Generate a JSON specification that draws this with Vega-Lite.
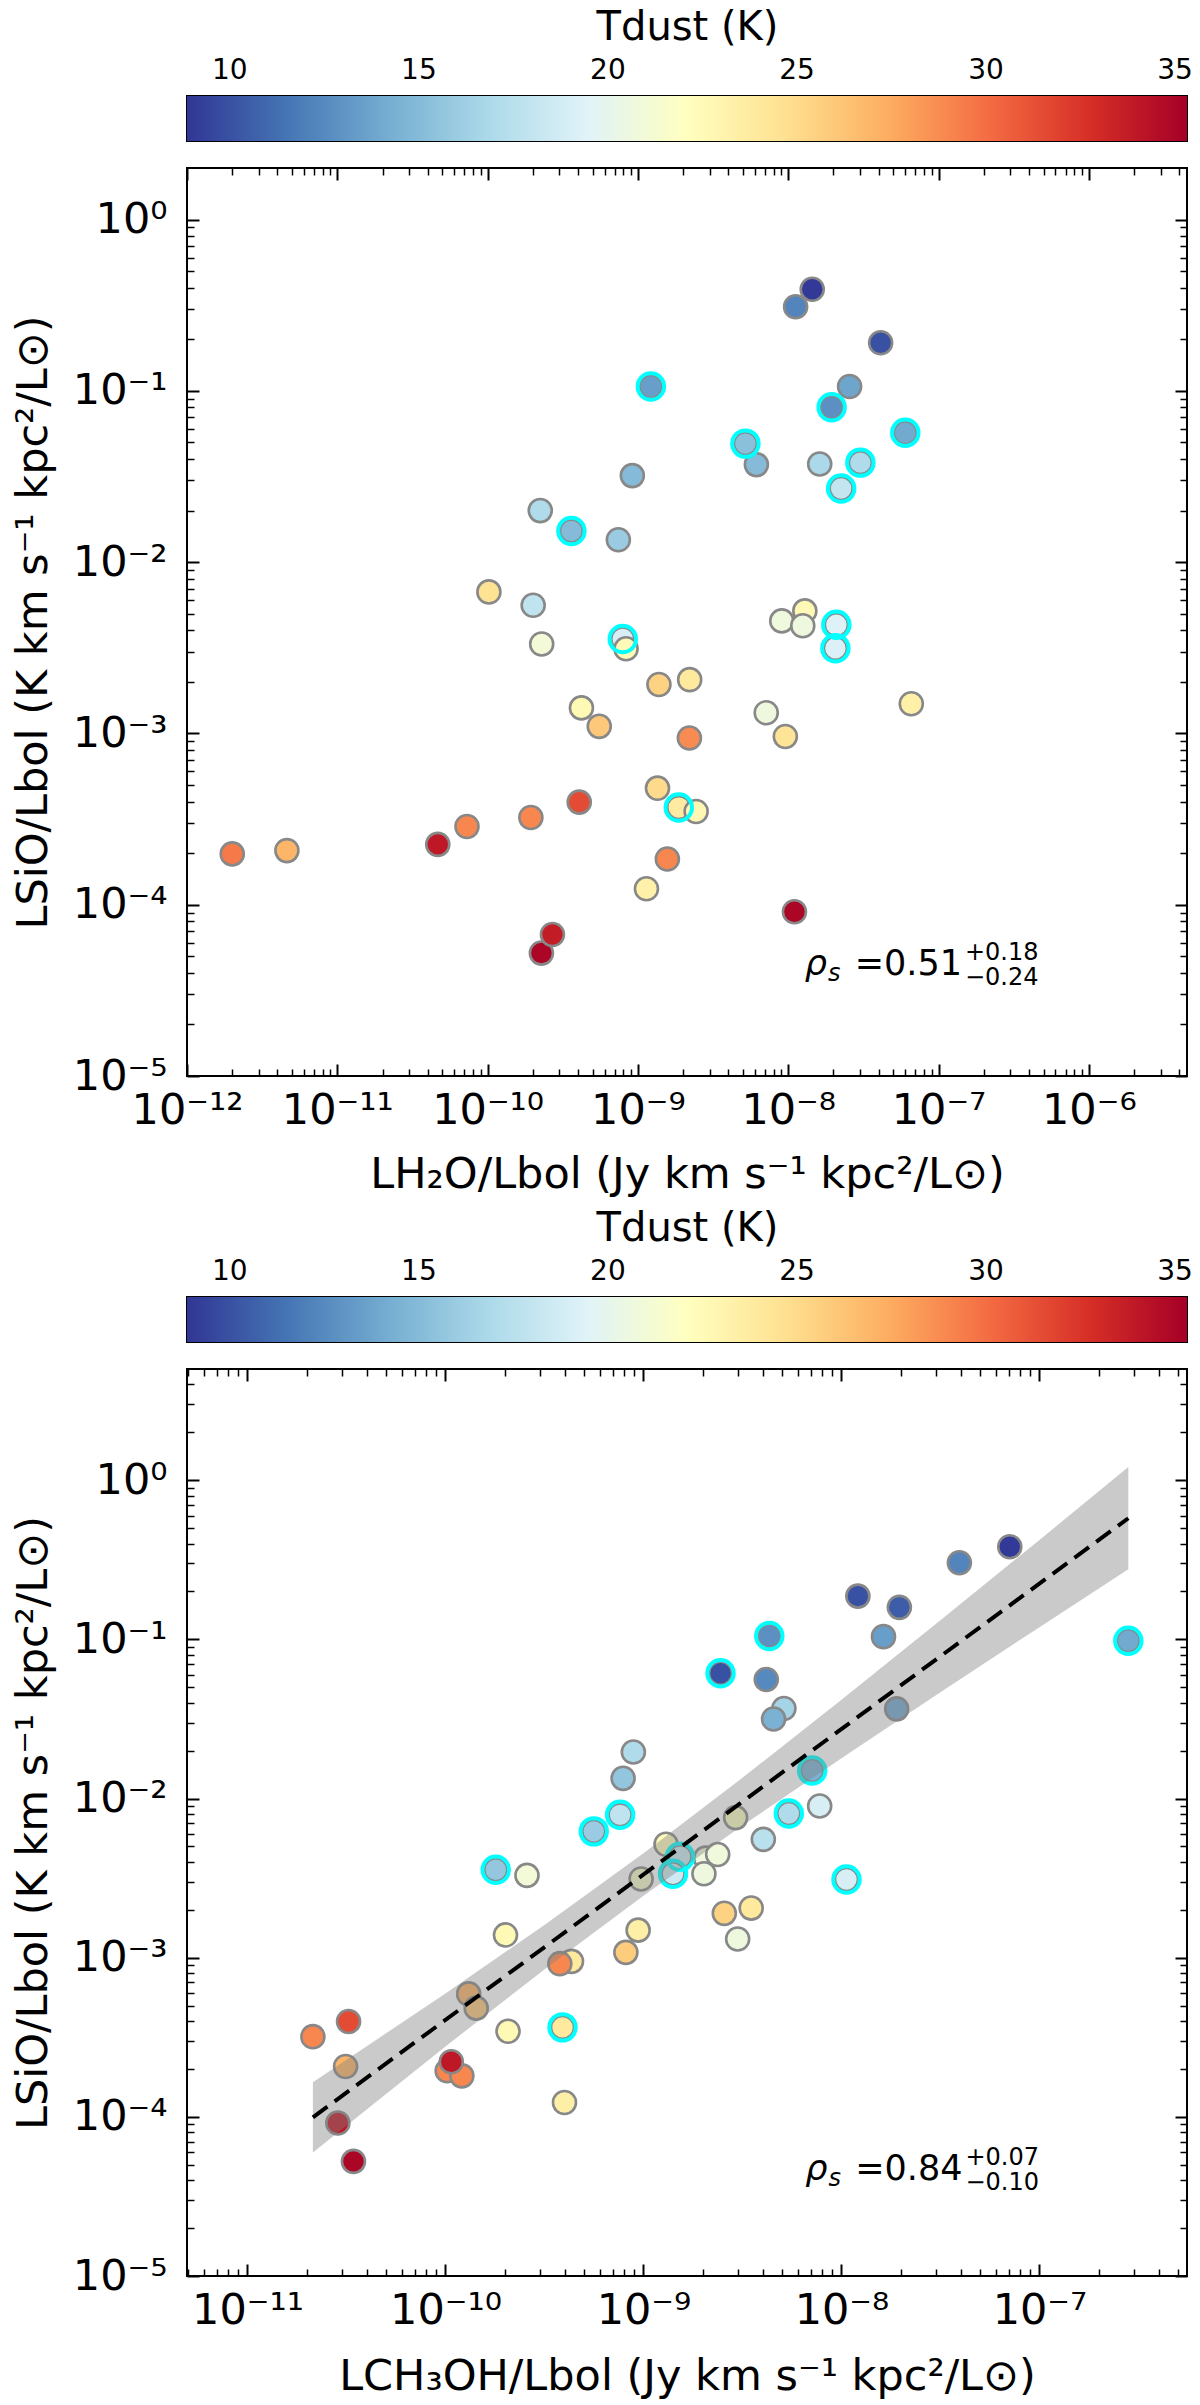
{
  "$schema": "https://vega.github.io/schema/vega-lite/v6.json",
  "description": "SiO vs H2O and CH3OH line luminosity ratios, coloured by dust temperature",
  "autosize": "none",
  "padding": {"left": 187, "top": 96, "right": 1013, "bottom": 2309},
  "background": "white",
  "bounds": "flush",
  "spacing": 27,
  "datasets": {
    "cbar": [{"t0": 8.88, "t1": 35.33}],
    "h2o": [
      {"x": 1.22e-9, "y": 0.106, "t": 13.5, "c": true},
      {"x": 9.18e-10, "y": 0.032, "t": 15, "c": false},
      {"x": 2.24e-10, "y": 0.020, "t": 17, "c": false},
      {"x": 3.61e-10, "y": 0.0152, "t": 15, "c": true},
      {"x": 7.41e-10, "y": 0.0135, "t": 16, "c": false},
      {"x": 1.02e-10, "y": 0.0067, "t": 24.5, "c": false},
      {"x": 2.01e-10, "y": 0.0056, "t": 17.8, "c": false},
      {"x": 2.29e-10, "y": 0.00333, "t": 21, "c": false},
      {"x": 7.93e-10, "y": 0.00356, "t": 19, "c": true},
      {"x": 8.34e-10, "y": 0.00312, "t": 22.5, "c": false},
      {"x": 1.38e-9, "y": 0.00193, "t": 25.5, "c": false},
      {"x": 2.21e-9, "y": 0.00206, "t": 24, "c": false},
      {"x": 4.21e-10, "y": 0.00141, "t": 22.6, "c": false},
      {"x": 5.53e-10, "y": 0.0011, "t": 26, "c": false},
      {"x": 2.20e-9, "y": 0.00094, "t": 28.8, "c": false},
      {"x": 1.35e-9, "y": 0.000479, "t": 25, "c": false},
      {"x": 1.87e-9, "y": 0.000369, "t": 23.8, "c": true},
      {"x": 2.44e-9, "y": 0.00035, "t": 22.8, "c": false},
      {"x": 4.07e-10, "y": 0.000397, "t": 31.5, "c": false},
      {"x": 1.94e-10, "y": 0.000323, "t": 29, "c": false},
      {"x": 7.29e-11, "y": 0.000286, "t": 29, "c": false},
      {"x": 4.66e-11, "y": 0.000225, "t": 34, "c": false},
      {"x": 2.0e-12, "y": 0.000198, "t": 29.5, "c": false},
      {"x": 4.62e-12, "y": 0.000207, "t": 27, "c": false},
      {"x": 1.57e-9, "y": 0.000185, "t": 29, "c": false},
      {"x": 1.14e-9, "y": 0.000124, "t": 23.3, "c": false},
      {"x": 2.28e-10, "y": 5.22e-5, "t": 35, "c": false},
      {"x": 2.70e-10, "y": 6.7e-5, "t": 33.8, "c": false},
      {"x": 1.12e-8, "y": 0.310, "t": 12.3, "c": false},
      {"x": 1.445e-8, "y": 0.392, "t": 9, "c": false},
      {"x": 4.12e-8, "y": 0.191, "t": 10, "c": false},
      {"x": 2.56e-8, "y": 0.106, "t": 13.8, "c": false},
      {"x": 1.945e-8, "y": 0.0802, "t": 12.8, "c": true},
      {"x": 6.01e-8, "y": 0.057, "t": 14, "c": true},
      {"x": 6.14e-9, "y": 0.0371, "t": 15, "c": false},
      {"x": 5.19e-9, "y": 0.0492, "t": 15.3, "c": true},
      {"x": 1.62e-8, "y": 0.0374, "t": 16.8, "c": false},
      {"x": 3.02e-8, "y": 0.0381, "t": 17, "c": true},
      {"x": 2.25e-8, "y": 0.0269, "t": 18, "c": true},
      {"x": 1.29e-8, "y": 0.00519, "t": 22.6, "c": false},
      {"x": 9.06e-9, "y": 0.00454, "t": 20.7, "c": false},
      {"x": 1.25e-8, "y": 0.00425, "t": 20.6, "c": false},
      {"x": 2.09e-8, "y": 0.00431, "t": 19.3, "c": true},
      {"x": 2.06e-8, "y": 0.00314, "t": 19.2, "c": true},
      {"x": 6.59e-8, "y": 0.00149, "t": 23.4, "c": false},
      {"x": 7.14e-9, "y": 0.00132, "t": 20.6, "c": false},
      {"x": 9.57e-9, "y": 0.00096, "t": 24.4, "c": false},
      {"x": 1.10e-8, "y": 9.1e-5, "t": 35, "c": false}
    ],
    "ch3oh": [
      {"x": 2.45e-9, "y": 0.0613, "t": 10, "c": true},
      {"x": 8.89e-10, "y": 0.0196, "t": 17, "c": false},
      {"x": 7.89e-10, "y": 0.0134, "t": 15.6, "c": false},
      {"x": 7.62e-10, "y": 0.0079, "t": 17.8, "c": true},
      {"x": 5.61e-10, "y": 0.00622, "t": 16, "c": true},
      {"x": 1.795e-10, "y": 0.00357, "t": 15.7, "c": true},
      {"x": 2.58e-10, "y": 0.00329, "t": 21, "c": false},
      {"x": 2.01e-10, "y": 0.00139, "t": 22.6, "c": false},
      {"x": 4.33e-10, "y": 0.000948, "t": 24, "c": false},
      {"x": 3.78e-10, "y": 0.000917, "t": 29, "c": false},
      {"x": 9.4e-10, "y": 0.00149, "t": 23.5, "c": false},
      {"x": 8.15e-10, "y": 0.00108, "t": 25.8, "c": false},
      {"x": 9.73e-10, "y": 0.00312, "t": 21.5, "c": false},
      {"x": 1.30e-9, "y": 0.00516, "t": 22.3, "c": false},
      {"x": 1.53e-9, "y": 0.00431, "t": 18.5, "c": true},
      {"x": 1.41e-9, "y": 0.00337, "t": 18.5, "c": true},
      {"x": 2.06e-9, "y": 0.00422, "t": 20.7, "c": false},
      {"x": 2.37e-9, "y": 0.00445, "t": 20.8, "c": false},
      {"x": 2.02e-9, "y": 0.00337, "t": 20.6, "c": false},
      {"x": 2.92e-9, "y": 0.00759, "t": 22, "c": false},
      {"x": 2.56e-9, "y": 0.0019, "t": 25.5, "c": false},
      {"x": 2.99e-9, "y": 0.00131, "t": 20.6, "c": false},
      {"x": 3.50e-9, "y": 0.00205, "t": 24, "c": false},
      {"x": 1.31e-10, "y": 0.000592, "t": 27, "c": false},
      {"x": 1.43e-10, "y": 0.000482, "t": 26, "c": false},
      {"x": 2.07e-10, "y": 0.000345, "t": 22.6, "c": false},
      {"x": 3.90e-10, "y": 0.000365, "t": 24, "c": true},
      {"x": 3.99e-10, "y": 0.000123, "t": 23.5, "c": false},
      {"x": 2.14e-11, "y": 0.000319, "t": 29, "c": false},
      {"x": 3.24e-11, "y": 0.000397, "t": 31.5, "c": false},
      {"x": 3.13e-11, "y": 0.000207, "t": 27, "c": false},
      {"x": 1.02e-10, "y": 0.000195, "t": 29, "c": false},
      {"x": 1.21e-10, "y": 0.000181, "t": 29, "c": false},
      {"x": 1.07e-10, "y": 0.000222, "t": 34, "c": false},
      {"x": 2.86e-11, "y": 9.14e-5, "t": 34, "c": false},
      {"x": 3.43e-11, "y": 5.25e-5, "t": 35, "c": false},
      {"x": 7.08e-8, "y": 0.382, "t": 9, "c": false},
      {"x": 3.94e-8, "y": 0.303, "t": 12.3, "c": false},
      {"x": 1.21e-8, "y": 0.187, "t": 10, "c": false},
      {"x": 1.96e-8, "y": 0.159, "t": 10.5, "c": false},
      {"x": 1.63e-8, "y": 0.104, "t": 13.5, "c": false},
      {"x": 4.32e-9, "y": 0.105, "t": 12.8, "c": true},
      {"x": 2.81e-7, "y": 0.098, "t": 14, "c": true},
      {"x": 4.17e-9, "y": 0.056, "t": 12.5, "c": false},
      {"x": 5.12e-9, "y": 0.0368, "t": 16.5, "c": false},
      {"x": 4.54e-9, "y": 0.0316, "t": 14.5, "c": false},
      {"x": 1.90e-8, "y": 0.0366, "t": 14, "c": false},
      {"x": 7.11e-9, "y": 0.0150, "t": 14.5, "c": true},
      {"x": 5.42e-9, "y": 0.00805, "t": 17, "c": true},
      {"x": 7.76e-9, "y": 0.00897, "t": 19, "c": false},
      {"x": 4.03e-9, "y": 0.00554, "t": 17.5, "c": false},
      {"x": 1.06e-8, "y": 0.0031, "t": 19, "c": true}
    ],
    "fit": [
      {"x": 2.14e-11, "y": 9.93e-5},
      {"x": 2.81e-7, "y": 0.577}
    ],
    "band": [
      {"x": 2.14e-11, "lo": 5.98e-5, "hi": 1.648e-4},
      {"x": 1e-10, "lo": 2.77e-4, "hi": 5.96e-4},
      {"x": 3.16e-10, "lo": 8.43e-4, "hi": 1.607e-3},
      {"x": 1e-9, "lo": 2.45e-3, "hi": 4.54e-3},
      {"x": 3.16e-9, "lo": 6.76e-3, "hi": 0.01349},
      {"x": 1e-8, "lo": 0.0179, "hi": 0.0418},
      {"x": 3.16e-8, "lo": 0.0466, "hi": 0.1318},
      {"x": 1e-7, "lo": 0.1194, "hi": 0.4217},
      {"x": 2.81e-7, "lo": 0.276, "hi": 1.211}
    ],
    "note1": [{"x": 1.50e-7, "y": 3.91e-5, "main": "=0.51", "up": "+0.18", "lo": "−0.24"}],
    "note2": [{"x": 4.23e-8, "y": 4.03e-5, "main": "=0.84", "up": "+0.07", "lo": "−0.10"}]
  },
  "vconcat": [
    {
      "width": 1000,
      "height": 45,
      "data": {"name": "cbar"},
      "mark": {
        "type": "rect",
        "color": {
          "gradient": "linear",
          "stops": [
            {"offset": 0, "color": "#313695"},
            {"offset": 0.1, "color": "#4575b4"},
            {"offset": 0.2, "color": "#74add1"},
            {"offset": 0.3, "color": "#abd9e9"},
            {"offset": 0.4, "color": "#e0f3f8"},
            {"offset": 0.5, "color": "#ffffbf"},
            {"offset": 0.6, "color": "#fee090"},
            {"offset": 0.7, "color": "#fdae61"},
            {"offset": 0.8, "color": "#f46d43"},
            {"offset": 0.9, "color": "#d73027"},
            {"offset": 1, "color": "#a50026"}
          ]
        }
      },
      "encoding": {
        "x": {
          "field": "t0", "type": "quantitative",
          "scale": {"domain": [8.88, 35.33], "nice": false, "zero": false},
          "axis": {
            "orient": "top",
            "values": [9,10,11,12,13,14,15,16,17,18,19,20,21,22,23,24,25,26,27,28,29,30,31,32,33,34,35],
            "format": "d",
            "labelExpr": "datum.value % 5 === 0 ? datum.label : ''",
            "tickSize": {"condition": {"test": "datum.value % 5 === 0", "value": -12}, "value": -7},
            "tickWidth": {"condition": {"test": "datum.value % 5 === 0", "value": 2}, "value": 1.5},
            "labelPadding": 30,
            "labelBaseline": "alphabetic",
            "labelFontSize": 28,
            "labelOverlap": false,
            "labelFlush": false,
            "labelBound": false,
            "title": "Tdust (K)",
            "titleFontSize": 40,
            "titleY": -57,
            "titleBaseline": "alphabetic"
          }
        },
        "x2": {"field": "t1"}
      }
    },
    {
      "width": 1000,
      "height": 908,
      "layer": [
        {
          "data": {"name": "h2o"},
          "mark": {"type": "circle", "size": 530, "stroke": "#888888", "strokeWidth": 2.6, "opacity": 1},
          "encoding": {
            "x": {
              "field": "x", "type": "quantitative",
              "scale": {"type": "log", "domain": [1e-12, 4.5e-6], "nice": false},
              "axis": {
                "orient": "bottom",
                "values": [1e-12,2e-12,3e-12,4e-12,5e-12,6e-12,7e-12,8e-12,9e-12,1e-11,2e-11,3e-11,4e-11,5e-11,6e-11,7e-11,8e-11,9e-11,1e-10,2e-10,3e-10,4e-10,5e-10,6e-10,7e-10,8e-10,9e-10,1e-9,2e-9,3e-9,4e-9,5e-9,6e-9,7e-9,8e-9,9e-9,1e-8,2e-8,3e-8,4e-8,5e-8,6e-8,7e-8,8e-8,9e-8,1e-7,2e-7,3e-7,4e-7,5e-7,6e-7,7e-7,8e-7,9e-7,1e-6,2e-6,3e-6,4e-6],
                "labelExpr": "abs(log(datum.value)/LN10-round(log(datum.value)/LN10))<0.01 ? '10'+(round(log(datum.value)/LN10)<0?'⁻':'')+(abs(round(log(datum.value)/LN10))>=10?substring('⁰¹²³⁴⁵⁶⁷⁸⁹',floor(abs(round(log(datum.value)/LN10))/10),floor(abs(round(log(datum.value)/LN10))/10)+1):'')+substring('⁰¹²³⁴⁵⁶⁷⁸⁹',abs(round(log(datum.value)/LN10))%10,abs(round(log(datum.value)/LN10))%10+1) : ''",
                "tickSize": {"condition": {"test": "abs(log(datum.value)/LN10-round(log(datum.value)/LN10))<0.01", "value": -12}, "value": -7},
                "tickWidth": {"condition": {"test": "abs(log(datum.value)/LN10-round(log(datum.value)/LN10))<0.01", "value": 2}, "value": 1.5},
                "labelPadding": 59.6,
                "labelBaseline": "alphabetic",
                "labelFontSize": 43,
                "labelFlush": false,
                "labelOverlap": false,
                "labelBound": false,
                "title": "LH₂O/Lbol (Jy km s⁻¹ kpc²/L⊙)",
                "titleFontSize": 43,
                "titleY": 111,
                "titleBaseline": "alphabetic"
              }
            },
            "y": {
              "field": "y", "type": "quantitative",
              "scale": {"type": "log", "domain": [1e-5, 2], "nice": false},
              "axis": {
                "orient": "left",
                "values": [1e-5,2e-5,3e-5,4e-5,5e-5,6e-5,7e-5,8e-5,9e-5,1e-4,2e-4,3e-4,4e-4,5e-4,6e-4,7e-4,8e-4,9e-4,1e-3,2e-3,3e-3,4e-3,5e-3,6e-3,7e-3,8e-3,9e-3,1e-2,2e-2,3e-2,4e-2,5e-2,6e-2,7e-2,8e-2,9e-2,0.1,0.2,0.3,0.4,0.5,0.6,0.7,0.8,0.9,1],
                "labelExpr": "abs(log(datum.value)/LN10-round(log(datum.value)/LN10))<0.01 ? '10'+(round(log(datum.value)/LN10)<0?'⁻':'')+(abs(round(log(datum.value)/LN10))>=10?substring('⁰¹²³⁴⁵⁶⁷⁸⁹',floor(abs(round(log(datum.value)/LN10))/10),floor(abs(round(log(datum.value)/LN10))/10)+1):'')+substring('⁰¹²³⁴⁵⁶⁷⁸⁹',abs(round(log(datum.value)/LN10))%10,abs(round(log(datum.value)/LN10))%10+1) : ''",
                "tickSize": {"condition": {"test": "abs(log(datum.value)/LN10-round(log(datum.value)/LN10))<0.01", "value": -12}, "value": -7},
                "tickWidth": {"condition": {"test": "abs(log(datum.value)/LN10-round(log(datum.value)/LN10))<0.01", "value": 2}, "value": 1.5},
                "labelPadding": 32,
                "labelBaseline": "middle",
                "labelAlign": "right",
                "labelFontSize": 43,
                "labelFlush": false,
                "labelOverlap": false,
                "labelBound": false,
                "title": "LSiO/Lbol (K km s⁻¹ kpc²/L⊙)",
                "titleFontSize": 43,
                "titleAngle": 270,
                "titleX": -141,
                "titleBaseline": "alphabetic"
              }
            },
            "color": {
              "field": "t", "type": "quantitative",
              "scale": {"type": "linear", "domain": [8.88, 11.525, 14.17, 16.815, 19.46, 22.105, 24.75, 27.395, 30.04, 32.685, 35.33], "range": ["#313695", "#4575b4", "#74add1", "#abd9e9", "#e0f3f8", "#ffffbf", "#fee090", "#fdae61", "#f46d43", "#d73027", "#a50026"], "interpolate": "rgb"},
              "legend": null
            }
          }
        },
        {
          "data": {"name": "h2o"},
          "transform": [{"filter": "datum.c"}],
          "mark": {"type": "point", "shape": "circle", "filled": false, "size": 700, "stroke": "#00ffff", "strokeWidth": 4, "opacity": 1},
          "encoding": {
            "x": {"field": "x", "type": "quantitative", "scale": {"type": "log", "domain": [1e-12, 4.5e-6], "nice": false}, "axis": null},
            "y": {"field": "y", "type": "quantitative", "scale": {"type": "log", "domain": [1e-5, 2], "nice": false}, "axis": null}
          }
        },
        {
          "data": {"name": "note1"},
          "mark": {"type": "text", "fontSize": 35, "align": "right", "baseline": "alphabetic", "dx": -3},
          "encoding": {
            "x": {"field": "x", "type": "quantitative", "scale": {"type": "log", "domain": [1e-12, 4.5e-6], "nice": false}, "axis": null},
            "y": {"field": "y", "type": "quantitative", "scale": {"type": "log", "domain": [1e-5, 2], "nice": false}, "axis": null},
            "text": {"field": "main"}
          }
        },
        {
          "data": {"name": "note1"},
          "mark": {"type": "text", "fontSize": 35, "fontStyle": "italic", "align": "right", "baseline": "alphabetic", "dx": -138},
          "encoding": {
            "x": {"field": "x", "type": "quantitative", "scale": {"type": "log", "domain": [1e-12, 4.5e-6], "nice": false}, "axis": null},
            "y": {"field": "y", "type": "quantitative", "scale": {"type": "log", "domain": [1e-5, 2], "nice": false}, "axis": null},
            "text": {"value": "ρ"}
          }
        },
        {
          "data": {"name": "note1"},
          "mark": {"type": "text", "fontSize": 24, "fontStyle": "italic", "align": "left", "baseline": "alphabetic", "dx": -137, "dy": 6},
          "encoding": {
            "x": {"field": "x", "type": "quantitative", "scale": {"type": "log", "domain": [1e-12, 4.5e-6], "nice": false}, "axis": null},
            "y": {"field": "y", "type": "quantitative", "scale": {"type": "log", "domain": [1e-5, 2], "nice": false}, "axis": null},
            "text": {"value": "s"}
          }
        },
        {
          "data": {"name": "note1"},
          "mark": {"type": "text", "fontSize": 24, "align": "left", "baseline": "alphabetic", "dy": -15},
          "encoding": {
            "x": {"field": "x", "type": "quantitative", "scale": {"type": "log", "domain": [1e-12, 4.5e-6], "nice": false}, "axis": null},
            "y": {"field": "y", "type": "quantitative", "scale": {"type": "log", "domain": [1e-5, 2], "nice": false}, "axis": null},
            "text": {"field": "up"}
          }
        },
        {
          "data": {"name": "note1"},
          "mark": {"type": "text", "fontSize": 24, "align": "left", "baseline": "alphabetic", "dy": 10},
          "encoding": {
            "x": {"field": "x", "type": "quantitative", "scale": {"type": "log", "domain": [1e-12, 4.5e-6], "nice": false}, "axis": null},
            "y": {"field": "y", "type": "quantitative", "scale": {"type": "log", "domain": [1e-5, 2], "nice": false}, "axis": null},
            "text": {"field": "lo"}
          }
        },
        {
          "data": {"name": "h2o"},
          "mark": {"type": "point", "opacity": 0},
          "encoding": {
            "x": {
              "field": "x", "type": "quantitative",
              "scale": {"type": "log", "domain": [1e-12, 4.5e-6], "nice": false},
              "axis": {
                "orient": "top", "labels": false, "title": null,
                "values": [1e-12,2e-12,3e-12,4e-12,5e-12,6e-12,7e-12,8e-12,9e-12,1e-11,2e-11,3e-11,4e-11,5e-11,6e-11,7e-11,8e-11,9e-11,1e-10,2e-10,3e-10,4e-10,5e-10,6e-10,7e-10,8e-10,9e-10,1e-9,2e-9,3e-9,4e-9,5e-9,6e-9,7e-9,8e-9,9e-9,1e-8,2e-8,3e-8,4e-8,5e-8,6e-8,7e-8,8e-8,9e-8,1e-7,2e-7,3e-7,4e-7,5e-7,6e-7,7e-7,8e-7,9e-7,1e-6,2e-6,3e-6,4e-6],
                "tickSize": {"condition": {"test": "abs(log(datum.value)/LN10-round(log(datum.value)/LN10))<0.01", "value": -12}, "value": -7},
                "tickWidth": {"condition": {"test": "abs(log(datum.value)/LN10-round(log(datum.value)/LN10))<0.01", "value": 2}, "value": 1.5}
              }
            },
            "y": {
              "field": "y", "type": "quantitative",
              "scale": {"type": "log", "domain": [1e-5, 2], "nice": false},
              "axis": {
                "orient": "right", "labels": false, "title": null,
                "values": [1e-5,2e-5,3e-5,4e-5,5e-5,6e-5,7e-5,8e-5,9e-5,1e-4,2e-4,3e-4,4e-4,5e-4,6e-4,7e-4,8e-4,9e-4,1e-3,2e-3,3e-3,4e-3,5e-3,6e-3,7e-3,8e-3,9e-3,1e-2,2e-2,3e-2,4e-2,5e-2,6e-2,7e-2,8e-2,9e-2,0.1,0.2,0.3,0.4,0.5,0.6,0.7,0.8,0.9,1],
                "tickSize": {"condition": {"test": "abs(log(datum.value)/LN10-round(log(datum.value)/LN10))<0.01", "value": -12}, "value": -7},
                "tickWidth": {"condition": {"test": "abs(log(datum.value)/LN10-round(log(datum.value)/LN10))<0.01", "value": 2}, "value": 1.5}
              }
            }
          }
        }
      ],
      "resolve": {"axis": {"x": "independent", "y": "independent"}}
    },
    {
      "width": 1000,
      "height": 167,
      "view": {"stroke": null},
      "data": {"values": [{"a": 0}]},
      "mark": {"type": "point", "opacity": 0},
      "encoding": {}
    },
    {
      "width": 1000,
      "height": 45,
      "data": {"name": "cbar"},
      "mark": {
        "type": "rect",
        "color": {
          "gradient": "linear",
          "stops": [
            {"offset": 0, "color": "#313695"},
            {"offset": 0.1, "color": "#4575b4"},
            {"offset": 0.2, "color": "#74add1"},
            {"offset": 0.3, "color": "#abd9e9"},
            {"offset": 0.4, "color": "#e0f3f8"},
            {"offset": 0.5, "color": "#ffffbf"},
            {"offset": 0.6, "color": "#fee090"},
            {"offset": 0.7, "color": "#fdae61"},
            {"offset": 0.8, "color": "#f46d43"},
            {"offset": 0.9, "color": "#d73027"},
            {"offset": 1, "color": "#a50026"}
          ]
        }
      },
      "encoding": {
        "x": {
          "field": "t0", "type": "quantitative",
          "scale": {"domain": [8.88, 35.33], "nice": false, "zero": false},
          "axis": {
            "orient": "top",
            "values": [9,10,11,12,13,14,15,16,17,18,19,20,21,22,23,24,25,26,27,28,29,30,31,32,33,34,35],
            "format": "d",
            "labelExpr": "datum.value % 5 === 0 ? datum.label : ''",
            "tickSize": {"condition": {"test": "datum.value % 5 === 0", "value": -12}, "value": -7},
            "tickWidth": {"condition": {"test": "datum.value % 5 === 0", "value": 2}, "value": 1.5},
            "labelPadding": 30,
            "labelBaseline": "alphabetic",
            "labelFontSize": 28,
            "labelOverlap": false,
            "labelFlush": false,
            "labelBound": false,
            "title": "Tdust (K)",
            "titleFontSize": 40,
            "titleY": -57,
            "titleBaseline": "alphabetic"
          }
        },
        "x2": {"field": "t1"}
      }
    },
    {
      "width": 1000,
      "height": 907,
      "layer": [
        {
          "data": {"name": "ch3oh"},
          "mark": {"type": "circle", "size": 530, "stroke": "#888888", "strokeWidth": 2.6, "opacity": 1},
          "encoding": {
            "x": {
              "field": "x", "type": "quantitative",
              "scale": {"type": "log", "domain": [4.95e-12, 5.56e-7], "nice": false},
              "axis": {
                "orient": "bottom",
                "values": [5e-12,6e-12,7e-12,8e-12,9e-12,1e-11,2e-11,3e-11,4e-11,5e-11,6e-11,7e-11,8e-11,9e-11,1e-10,2e-10,3e-10,4e-10,5e-10,6e-10,7e-10,8e-10,9e-10,1e-9,2e-9,3e-9,4e-9,5e-9,6e-9,7e-9,8e-9,9e-9,1e-8,2e-8,3e-8,4e-8,5e-8,6e-8,7e-8,8e-8,9e-8,1e-7,2e-7,3e-7,4e-7,5e-7],
                "labelExpr": "abs(log(datum.value)/LN10-round(log(datum.value)/LN10))<0.01 ? '10'+(round(log(datum.value)/LN10)<0?'⁻':'')+(abs(round(log(datum.value)/LN10))>=10?substring('⁰¹²³⁴⁵⁶⁷⁸⁹',floor(abs(round(log(datum.value)/LN10))/10),floor(abs(round(log(datum.value)/LN10))/10)+1):'')+substring('⁰¹²³⁴⁵⁶⁷⁸⁹',abs(round(log(datum.value)/LN10))%10,abs(round(log(datum.value)/LN10))%10+1) : ''",
                "tickSize": {"condition": {"test": "abs(log(datum.value)/LN10-round(log(datum.value)/LN10))<0.01", "value": -12}, "value": -7},
                "tickWidth": {"condition": {"test": "abs(log(datum.value)/LN10-round(log(datum.value)/LN10))<0.01", "value": 2}, "value": 1.5},
                "labelPadding": 59,
                "labelBaseline": "alphabetic",
                "labelFontSize": 43,
                "labelFlush": false,
                "labelOverlap": false,
                "labelBound": false,
                "title": "LCH₃OH/Lbol (Jy km s⁻¹ kpc²/L⊙)",
                "titleFontSize": 43,
                "titleY": 113,
                "titleBaseline": "alphabetic"
              }
            },
            "y": {
              "field": "y", "type": "quantitative",
              "scale": {"type": "log", "domain": [1e-5, 5], "nice": false},
              "axis": {
                "orient": "left",
                "values": [1e-5,2e-5,3e-5,4e-5,5e-5,6e-5,7e-5,8e-5,9e-5,1e-4,2e-4,3e-4,4e-4,5e-4,6e-4,7e-4,8e-4,9e-4,1e-3,2e-3,3e-3,4e-3,5e-3,6e-3,7e-3,8e-3,9e-3,1e-2,2e-2,3e-2,4e-2,5e-2,6e-2,7e-2,8e-2,9e-2,0.1,0.2,0.3,0.4,0.5,0.6,0.7,0.8,0.9,1,2,3,4],
                "labelExpr": "abs(log(datum.value)/LN10-round(log(datum.value)/LN10))<0.01 ? '10'+(round(log(datum.value)/LN10)<0?'⁻':'')+(abs(round(log(datum.value)/LN10))>=10?substring('⁰¹²³⁴⁵⁶⁷⁸⁹',floor(abs(round(log(datum.value)/LN10))/10),floor(abs(round(log(datum.value)/LN10))/10)+1):'')+substring('⁰¹²³⁴⁵⁶⁷⁸⁹',abs(round(log(datum.value)/LN10))%10,abs(round(log(datum.value)/LN10))%10+1) : ''",
                "tickSize": {"condition": {"test": "abs(log(datum.value)/LN10-round(log(datum.value)/LN10))<0.01", "value": -12}, "value": -7},
                "tickWidth": {"condition": {"test": "abs(log(datum.value)/LN10-round(log(datum.value)/LN10))<0.01", "value": 2}, "value": 1.5},
                "labelPadding": 32,
                "labelBaseline": "middle",
                "labelAlign": "right",
                "labelFontSize": 43,
                "labelFlush": false,
                "labelOverlap": false,
                "labelBound": false,
                "title": "LSiO/Lbol (K km s⁻¹ kpc²/L⊙)",
                "titleFontSize": 43,
                "titleAngle": 270,
                "titleX": -141,
                "titleBaseline": "alphabetic"
              }
            },
            "color": {
              "field": "t", "type": "quantitative",
              "scale": {"type": "linear", "domain": [8.88, 11.525, 14.17, 16.815, 19.46, 22.105, 24.75, 27.395, 30.04, 32.685, 35.33], "range": ["#313695", "#4575b4", "#74add1", "#abd9e9", "#e0f3f8", "#ffffbf", "#fee090", "#fdae61", "#f46d43", "#d73027", "#a50026"], "interpolate": "rgb"},
              "legend": null
            }
          }
        },
        {
          "data": {"name": "ch3oh"},
          "transform": [{"filter": "datum.c"}],
          "mark": {"type": "point", "shape": "circle", "filled": false, "size": 700, "stroke": "#00ffff", "strokeWidth": 4, "opacity": 1},
          "encoding": {
            "x": {"field": "x", "type": "quantitative", "scale": {"type": "log", "domain": [4.95e-12, 5.56e-7], "nice": false}, "axis": null},
            "y": {"field": "y", "type": "quantitative", "scale": {"type": "log", "domain": [1e-5, 5], "nice": false}, "axis": null}
          }
        },
        {
          "data": {"name": "band"},
          "mark": {"type": "area", "color": "gray", "opacity": 0.42},
          "encoding": {
            "x": {"field": "x", "type": "quantitative", "scale": {"type": "log", "domain": [4.95e-12, 5.56e-7], "nice": false}, "axis": null},
            "y": {"field": "lo", "type": "quantitative", "scale": {"type": "log", "domain": [1e-5, 5], "nice": false}, "axis": null},
            "y2": {"field": "hi"}
          }
        },
        {
          "data": {"name": "fit"},
          "mark": {"type": "line", "color": "black", "strokeWidth": 4, "strokeDash": [18, 9]},
          "encoding": {
            "x": {"field": "x", "type": "quantitative", "scale": {"type": "log", "domain": [4.95e-12, 5.56e-7], "nice": false}, "axis": null},
            "y": {"field": "y", "type": "quantitative", "scale": {"type": "log", "domain": [1e-5, 5], "nice": false}, "axis": null}
          }
        },
        {
          "data": {"name": "note2"},
          "mark": {"type": "text", "fontSize": 35, "align": "right", "baseline": "alphabetic", "dx": -3},
          "encoding": {
            "x": {"field": "x", "type": "quantitative", "scale": {"type": "log", "domain": [4.95e-12, 5.56e-7], "nice": false}, "axis": null},
            "y": {"field": "y", "type": "quantitative", "scale": {"type": "log", "domain": [1e-5, 5], "nice": false}, "axis": null},
            "text": {"field": "main"}
          }
        },
        {
          "data": {"name": "note2"},
          "mark": {"type": "text", "fontSize": 35, "fontStyle": "italic", "align": "right", "baseline": "alphabetic", "dx": -138},
          "encoding": {
            "x": {"field": "x", "type": "quantitative", "scale": {"type": "log", "domain": [4.95e-12, 5.56e-7], "nice": false}, "axis": null},
            "y": {"field": "y", "type": "quantitative", "scale": {"type": "log", "domain": [1e-5, 5], "nice": false}, "axis": null},
            "text": {"value": "ρ"}
          }
        },
        {
          "data": {"name": "note2"},
          "mark": {"type": "text", "fontSize": 24, "fontStyle": "italic", "align": "left", "baseline": "alphabetic", "dx": -137, "dy": 6},
          "encoding": {
            "x": {"field": "x", "type": "quantitative", "scale": {"type": "log", "domain": [4.95e-12, 5.56e-7], "nice": false}, "axis": null},
            "y": {"field": "y", "type": "quantitative", "scale": {"type": "log", "domain": [1e-5, 5], "nice": false}, "axis": null},
            "text": {"value": "s"}
          }
        },
        {
          "data": {"name": "note2"},
          "mark": {"type": "text", "fontSize": 24, "align": "left", "baseline": "alphabetic", "dy": -15},
          "encoding": {
            "x": {"field": "x", "type": "quantitative", "scale": {"type": "log", "domain": [4.95e-12, 5.56e-7], "nice": false}, "axis": null},
            "y": {"field": "y", "type": "quantitative", "scale": {"type": "log", "domain": [1e-5, 5], "nice": false}, "axis": null},
            "text": {"field": "up"}
          }
        },
        {
          "data": {"name": "note2"},
          "mark": {"type": "text", "fontSize": 24, "align": "left", "baseline": "alphabetic", "dy": 10},
          "encoding": {
            "x": {"field": "x", "type": "quantitative", "scale": {"type": "log", "domain": [4.95e-12, 5.56e-7], "nice": false}, "axis": null},
            "y": {"field": "y", "type": "quantitative", "scale": {"type": "log", "domain": [1e-5, 5], "nice": false}, "axis": null},
            "text": {"field": "lo"}
          }
        },
        {
          "data": {"name": "ch3oh"},
          "mark": {"type": "point", "opacity": 0},
          "encoding": {
            "x": {
              "field": "x", "type": "quantitative",
              "scale": {"type": "log", "domain": [4.95e-12, 5.56e-7], "nice": false},
              "axis": {
                "orient": "top", "labels": false, "title": null,
                "values": [5e-12,6e-12,7e-12,8e-12,9e-12,1e-11,2e-11,3e-11,4e-11,5e-11,6e-11,7e-11,8e-11,9e-11,1e-10,2e-10,3e-10,4e-10,5e-10,6e-10,7e-10,8e-10,9e-10,1e-9,2e-9,3e-9,4e-9,5e-9,6e-9,7e-9,8e-9,9e-9,1e-8,2e-8,3e-8,4e-8,5e-8,6e-8,7e-8,8e-8,9e-8,1e-7,2e-7,3e-7,4e-7,5e-7],
                "tickSize": {"condition": {"test": "abs(log(datum.value)/LN10-round(log(datum.value)/LN10))<0.01", "value": -12}, "value": -7},
                "tickWidth": {"condition": {"test": "abs(log(datum.value)/LN10-round(log(datum.value)/LN10))<0.01", "value": 2}, "value": 1.5}
              }
            },
            "y": {
              "field": "y", "type": "quantitative",
              "scale": {"type": "log", "domain": [1e-5, 5], "nice": false},
              "axis": {
                "orient": "right", "labels": false, "title": null,
                "values": [1e-5,2e-5,3e-5,4e-5,5e-5,6e-5,7e-5,8e-5,9e-5,1e-4,2e-4,3e-4,4e-4,5e-4,6e-4,7e-4,8e-4,9e-4,1e-3,2e-3,3e-3,4e-3,5e-3,6e-3,7e-3,8e-3,9e-3,1e-2,2e-2,3e-2,4e-2,5e-2,6e-2,7e-2,8e-2,9e-2,0.1,0.2,0.3,0.4,0.5,0.6,0.7,0.8,0.9,1,2,3,4],
                "tickSize": {"condition": {"test": "abs(log(datum.value)/LN10-round(log(datum.value)/LN10))<0.01", "value": -12}, "value": -7},
                "tickWidth": {"condition": {"test": "abs(log(datum.value)/LN10-round(log(datum.value)/LN10))<0.01", "value": 2}, "value": 1.5}
              }
            }
          }
        }
      ],
      "resolve": {"axis": {"x": "independent", "y": "independent"}}
    }
  ],
  "config": {
    "font": "DejaVu Sans",
    "view": {"stroke": "black", "strokeWidth": 2},
    "axis": {
      "zindex": 1,
      "grid": false,
      "domain": false,
      "tickColor": "black",
      "labelColor": "black",
      "titleColor": "black",
      "labelFont": "DejaVu Sans",
      "titleFont": "DejaVu Sans",
      "titleFontWeight": "normal"
    },
    "text": {"font": "DejaVu Sans", "color": "black"}
  }
}
